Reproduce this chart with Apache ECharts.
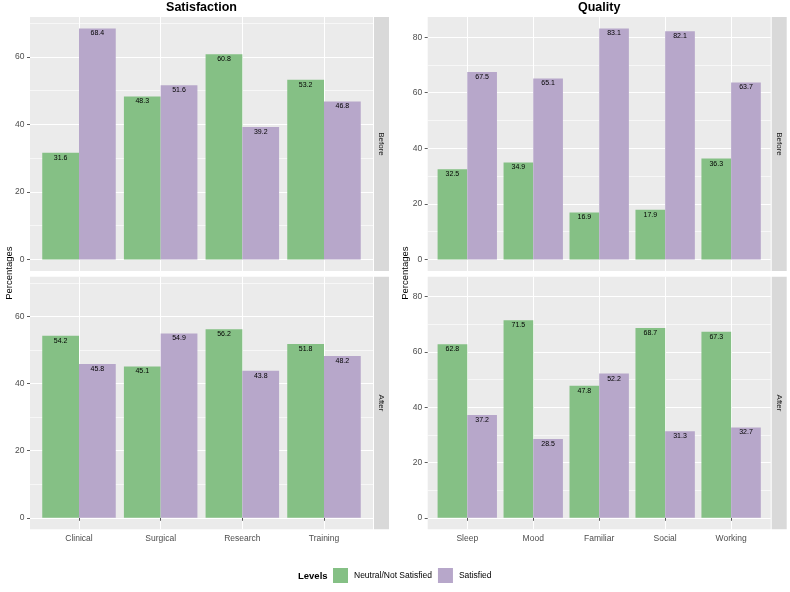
<!DOCTYPE html>
<html>
<head>
<meta charset="utf-8">
<script src="https://cdn.jsdelivr.net/npm/echarts@6/dist/echarts.min.js"></script>
<style>html,body{margin:0;padding:0;background:#fff;}#c{width:790px;height:592px;}</style>
</head>
<body>
<div id="c"></div>
<script>
// ---- data ----
const satCategories = ['Clinical', 'Surgical', 'Research', 'Training'];
const satBeforeNeutral = [31.6, 48.3, 60.8, 53.2];
const satBeforeSatisfied = [68.4, 51.6, 39.2, 46.8];
const satAfterNeutral = [54.2, 45.1, 56.2, 51.8];
const satAfterSatisfied = [45.8, 54.9, 43.8, 48.2];

const qualCategories = ['Sleep', 'Mood', 'Familiar', 'Social', 'Working'];
const qualBeforeNeutral = [32.5, 34.9, 16.9, 17.9, 36.3];
const qualBeforeSatisfied = [67.5, 65.1, 83.1, 82.1, 63.7];
const qualAfterNeutral = [62.8, 71.5, 47.8, 68.7, 67.3];
const qualAfterSatisfied = [37.2, 28.5, 52.2, 31.3, 32.7];

const satMajorTicks = [0, 20, 40, 60];
const satMinorTicks = [10, 30, 50, 70];
const qualMajorTicks = [0, 20, 40, 60, 80];
const qualMinorTicks = [10, 30, 50, 70];

const seriesNames = ['Neutral/Not Satisfied', 'Satisfied'];
const facetNames = ['Before', 'After'];
const panelTitles = ['Satisfaction', 'Quality'];
const yTitle = 'Percentages';
const legendTitle = 'Levels';

// ---- styling / layout ----
const COLORS = ['#85C085', '#B7A7CA'];
const FONT = '"Liberation Sans", Arial, sans-serif';
const cols = [{x: 30, w: 343}, {x: 427.7, w: 343}];
const rows = [{y: 17, h: 254}, {y: 276.7, h: 252.6}];
const yTitleX = [9, 405];

const columns = [
  {cats: satCategories, major: satMajorTicks, minor: satMinorTicks,
   data: [[satBeforeNeutral, satBeforeSatisfied], [satAfterNeutral, satAfterSatisfied]]},
  {cats: qualCategories, major: qualMajorTicks, minor: qualMinorTicks,
   data: [[qualBeforeNeutral, qualBeforeSatisfied], [qualAfterNeutral, qualAfterSatisfied]]}
];

const grid = [], xAxis = [], yAxis = [], series = [], graphic = [];

columns.forEach((col, c) => {
  const all = col.data.flat(2);
  const maxV = Math.max(...all), minV = 0;
  const span = maxV - minV;
  const yMin = minV - 0.05 * span, yMax = maxV + 0.05 * span;
  const n = col.cats.length;
  const unit = cols[c].w / (n + 0.2);
  const xPos = col.cats.map((_, i) => i + 1);

  rows.forEach((row, r) => {
    // background grid (full panel)
    const bg = grid.length;
    grid.push({left: cols[c].x, top: row.y, width: cols[c].w, height: row.h,
      show: true, backgroundColor: '#EBEBEB', borderWidth: 0, containLabel: false});
    xAxis.push({gridIndex: bg, type: 'value', min: 0.4, max: n + 0.6,
      axisLine: {show: false}, axisLabel: {show: false},
      axisTick: {show: false, customValues: xPos},
      splitLine: {show: true, lineStyle: {color: '#FFFFFF', width: 1.1}}});
    // major y
    yAxis.push({gridIndex: bg, type: 'value', min: yMin, max: yMax,
      axisLine: {show: false},
      axisTick: {show: true, length: 3, customValues: col.major, lineStyle: {color: '#333333', width: 0.8}},
      axisLabel: {show: true, customValues: col.major, margin: 5.5, color: '#4D4D4D', fontSize: 8.5, fontFamily: FONT},
      splitLine: {show: true, lineStyle: {color: '#FFFFFF', width: 1.1}}});
    // minor y
    yAxis.push({gridIndex: bg, type: 'value', min: yMin, max: yMax, position: 'left',
      axisLine: {show: false},
      axisTick: {show: false, customValues: col.minor},
      axisLabel: {show: false, customValues: col.minor},
      splitLine: {show: true, lineStyle: {color: '#FFFFFF', width: 0.6}}});

    // data grid (inset by 0.1 unit)
    const dg = grid.length;
    grid.push({left: cols[c].x + 0.1 * unit, top: row.y, width: n * unit, height: row.h, show: false});
    const xi = xAxis.length;
    xAxis.push({gridIndex: dg, type: 'category', data: col.cats,
      axisLine: {show: false},
      axisTick: {show: r === 1, alignWithLabel: true, length: 3, lineStyle: {color: '#333333', width: 0.8}},
      axisLabel: {show: r === 1, margin: 5, color: '#4D4D4D', fontSize: 8.5, fontFamily: FONT},
      splitLine: {show: false}});
    const yi = yAxis.length;
    yAxis.push({gridIndex: dg, type: 'value', min: yMin, max: yMax, show: false, splitLine: {show: false}});

    col.data[r].forEach((vals, s) => {
      series.push({type: 'bar', name: seriesNames[s], xAxisIndex: xi, yAxisIndex: yi,
        data: vals, barWidth: '45%', barGap: '0%',
        itemStyle: {color: COLORS[s]},
        label: {show: true, position: 'insideTop', distance: 1.5, color: '#000',
          fontSize: 7, fontFamily: FONT, formatter: p => p.value.toFixed(1)},
        emphasis: {disabled: true}, animation: false});
    });

    // strip
    const sx = cols[c].x + cols[c].w + 1;
    graphic.push({type: 'rect', shape: {x: sx, y: row.y, width: 15, height: row.h},
      style: {fill: '#D9D9D9'}, silent: true});
    graphic.push({type: 'text', x: sx + 7.5, y: row.y + row.h / 2, rotation: -Math.PI / 2,
      style: {text: facetNames[r], align: 'center', verticalAlign: 'middle',
        fontSize: 8, fontFamily: FONT, fill: '#1A1A1A'}, silent: true});
  });

  // column title
  graphic.push({type: 'text', x: cols[c].x + cols[c].w / 2, y: 8,
    style: {text: panelTitles[c], align: 'center', verticalAlign: 'middle',
      fontSize: 12.5, fontWeight: 'bold', fontFamily: FONT, fill: '#000'}, silent: true});
  // y title
  graphic.push({type: 'text', x: yTitleX[c], y: (rows[0].y + rows[1].y + rows[1].h) / 2, rotation: Math.PI / 2,
    style: {text: yTitle, align: 'center', verticalAlign: 'middle',
      fontSize: 9.5, fontFamily: FONT, fill: '#000'}, silent: true});
});

graphic.push({type: 'text', x: 298, y: 576,
  style: {text: legendTitle, align: 'left', verticalAlign: 'middle',
    fontSize: 9.5, fontWeight: 'bold', fontFamily: FONT, fill: '#000'}, silent: true});

const chart = echarts.init(document.getElementById('c'), null, {renderer: 'canvas'});
chart.setOption({
  animation: false,
  backgroundColor: '#FFFFFF',
  grid, xAxis, yAxis, series, graphic,
  legend: {data: seriesNames, left: 333, top: 568, itemWidth: 15, itemHeight: 15, itemGap: 6,
    icon: 'rect', selectedMode: false, padding: 0,
    textStyle: {fontSize: 8.5, fontFamily: FONT, color: '#000000', padding: [0, 0, 0, 1]}},
  tooltip: {show: false}
});
</script>
</body>
</html>
